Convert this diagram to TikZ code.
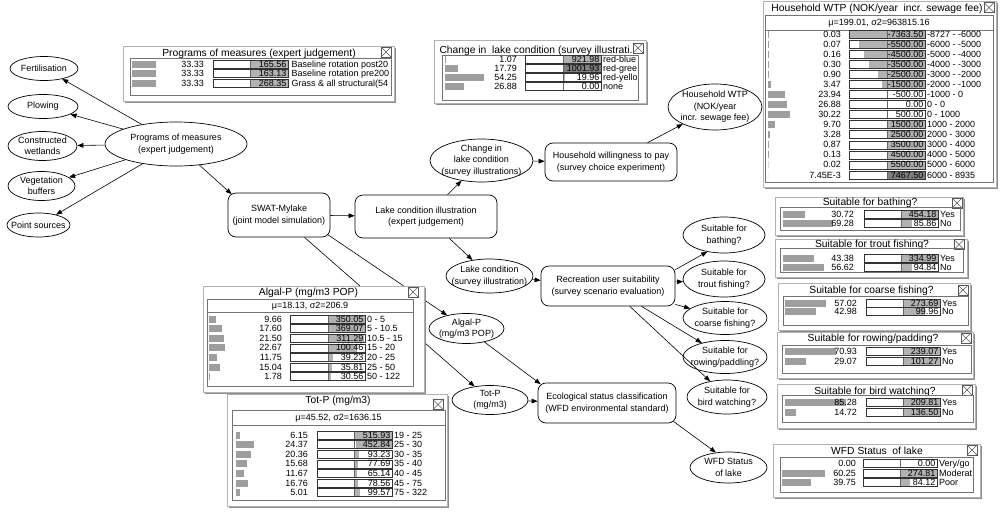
\documentclass[tikz,border=0pt]{standalone}
\usepackage{fontspec}
\setmainfont{Liberation Sans}
\usetikzlibrary{shapes.geometric,arrows.meta}
\newcommand{\fntnode}{\fontsize{9}{11.5}\selectfont}
\newcommand{\fntrow}{\fontsize{9}{10}\selectfont}
\newcommand{\fnttitle}{\fontsize{10.3}{12}\selectfont}
\tikzset{
  ell/.style={ellipse,draw=black,line width=0.7pt,fill=white,inner sep=0pt},
  rbox/.style={rectangle,rounded corners=8pt,draw=black,line width=0.7pt,fill=white,inner sep=0pt,align=center,font=\fntnode},
  ntxt/.style={align=center,font=\fntnode,inner sep=0pt},
  arr/.style={-{Triangle[length=6pt,width=4.6pt]},line width=0.6pt},
  rowtxt/.style={font=\fntrow,inner sep=0pt,text height=6.5pt,text depth=1.5pt},
  titletxt/.style={font=\fnttitle,inner sep=0pt,text height=7.5pt,text depth=2pt},
  barfill/.style={fill=black!38},
  valfill/.style={fill=black!30},
  valdark/.style={fill=black!50},
  closeic/.style={draw=black!65,line width=0.6pt},
  inbox/.style={draw=black!55,line width=0.6pt},
}
\newcommand{\tframe}[4]{%
  \fill[black!45] (#1+2,#2+2) rectangle (#3+2,#4+2);
  \filldraw[fill=white,draw=black!30,line width=0.6pt] (#1,#2) rectangle (#3,#4);}
\newcommand{\tclose}[2]{%
  \draw[closeic] (#1,#2) rectangle ++(10,10);
  \draw[closeic] (#1,#2) -- ++(10,10);
  \draw[closeic] (#1+10,#2) -- ++(-10,10);}
\newcommand{\tset}[7]{\def\TBx{#1}\def\TVx{#2}\def\TBa{#3}\def\TBm{#4}\def\TBb{#5}\def\TLx{#6}\def\TCx{#7}}
\newcommand{\prow}[9][valfill]{%
  \fill[barfill] (\TBx,#3-3.5) rectangle ++(#4*0.72,7);
  \node[rowtxt,anchor=east] (#2v) at (\TVx,#3+0.5) {#5};
  \fill[white] (\TBa,#3-4) rectangle (\TBb,#3+4);
  \fill[#1] (#6,#3-4) rectangle (#7,#3+4);
  \draw[black!60,line width=0.5pt] (\TBm,#3-4) -- (\TBm,#3+4);
  \draw[black!80,line width=0.6pt] (\TBa,#3-4) rectangle (\TBb,#3+4);
  \node[rowtxt,anchor=east] (#2n) at (\TBb-1.5,#3+0.5) {#8};
  \begin{scope}\clip (\TLx,#3-6) rectangle (\TCx,#3+6);
  \node[rowtxt,anchor=west] (#2l) at (\TLx,#3+0.5) {#9};\end{scope}}
\begin{document}
\begin{tikzpicture}[x=1pt,y=-1pt]
\useasboundingbox (0,0) rectangle (1004,517);
\fill[white] (0,0) rectangle (1004,517);
% ---------- nodes
\node[ell,minimum width=68pt,minimum height=24pt] (fert) at (44,68.5) {};
\node[ntxt] (fertt) at (fert) {Fertilisation};
\node[ell,minimum width=70pt,minimum height=24pt] (plow) at (43,106.5) {};
\node[ntxt] (plowt) at (plow) {Plowing};
\node[ell,minimum width=69pt,minimum height=29pt] (cw) at (42.5,146) {};
\node[ntxt] (cwt) at (cw) {Constructed\\wetlands};
\node[ell,minimum width=67pt,minimum height=29pt] (vb) at (41.5,186) {};
\node[ntxt] (vbt) at (vb) {Vegetation\\buffers};
\node[ell,minimum width=63pt,minimum height=24pt] (ps) at (38.5,225) {};
\node[ntxt] (pst) at (ps) {Point sources};
\node[ell,minimum width=142pt,minimum height=44pt] (prog) at (176,144) {};
\node[ntxt] (progt) at (prog) {Programs of measures\\(expert judgement)};
\node[rbox,minimum width=102pt,minimum height=44pt] (swat) at (279,215) {SWAT-Mylake\\(joint model simulation)};
\node[rbox,minimum width=142pt,minimum height=43pt] (lci) at (426,216.5) {Lake condition illustration\\(expert judgement)};
\node[ell,minimum width=103pt,minimum height=43pt] (chg) at (481.5,160.5) {};
\node[ntxt] (chgt) at (chg) {Change in\\lake condition\\(survey illustrations)};
\node[rbox,minimum width=132pt,minimum height=38pt] (hhb) at (611,162) {Household willingness to pay\\(survey choice experiment)};
\node[ell,minimum width=94pt,minimum height=46pt] (hhw) at (715,107) {};
\node[ntxt] (hhwt) at (hhw) {Household WTP\\(NOK/year\\incr. sewage fee)};
\node[ell,minimum width=87pt,minimum height=34pt] (lc) at (489.5,276) {};
\node[ntxt] (lct) at (lc) {Lake condition\\(survey illustration)};
\node[rbox,minimum width=134pt,minimum height=40pt] (rec) at (608,286) {Recreation user suitability\\(survey scenario evaluation)};
\node[ell,minimum width=82pt,minimum height=36pt] (bath) at (724,235) {};
\node[ntxt] (batht) at (bath) {Suitable for\\bathing?};
\node[ell,minimum width=82pt,minimum height=36pt] (trout) at (724,279) {};
\node[ntxt] (troutt) at (trout) {Suitable for\\trout fishing?};
\node[ell,minimum width=84pt,minimum height=33pt] (coarse) at (725,318) {};
\node[ntxt] (coarset) at (coarse) {Suitable for\\coarse fishing?};
\node[ell,minimum width=84pt,minimum height=33pt] (row) at (725,357) {};
\node[ntxt] (rowt) at (row) {Suitable for\\rowing/paddling?};
\node[ell,minimum width=80pt,minimum height=34pt] (bird) at (727,397) {};
\node[ntxt] (birdt) at (bird) {Suitable for\\bird watching?};
\node[ell,minimum width=75pt,minimum height=30pt] (algal) at (466.5,328.5) {};
\node[ntxt] (algalt) at (algal) {Algal-P\\(mg/m3 POP)};
\node[ell,minimum width=76pt,minimum height=29pt] (totp) at (490,400) {};
\node[ntxt] (totpt) at (totp) {Tot-P\\(mg/m3)};
\node[rbox,minimum width=138pt,minimum height=40pt] (eco) at (607,403) {Ecological status classification\\(WFD environmental standard)};
\node[ell,minimum width=77pt,minimum height=31pt] (wfd) at (728.5,467.5) {};
\node[ntxt] (wfdt) at (wfd) {WFD Status\\of lake};
% ---------- connectors
\draw[arr] (prog) -- (fert);
\draw[arr] (prog) -- (plow);
\draw[arr] (prog) -- (cw);
\draw[arr] (prog) -- (vb);
\draw[arr] (prog) -- (ps);
\draw[arr] (prog) -- ([xshift=4pt,yshift=-1.5pt]swat.north west);
\draw[arr] (swat) -- (lci);
\draw[arr] (lci) -- (chg);
\draw[arr] (chg) -- (hhb);
\draw[arr] (hhb) -- (hhw);
\draw[arr] (lci) -- (lc);
\draw[arr] (lc) -- (rec);
\draw[arr] ([yshift=-4pt]rec.north east) -- (bath.225);
\draw[arr] (rec) -- (trout);
\draw[arr] (rec) -- (coarse);
\draw[arr] (rec) -- (row);
\draw[arr] (rec) -- (bird);
\draw[arr] ([xshift=-3pt,yshift=3pt]swat.south east) -- (algal);
\draw[arr] (swat) -- (totp);
\draw[arr] (algal) -- ([xshift=3pt,yshift=-1.5pt]eco.north west);
\draw[arr] (totp) -- (eco);
\draw[arr] ([xshift=-3pt,yshift=2pt]eco.south east) -- (wfd.130);
% ---------- table A: programs of measures
\tframe{123}{46}{394}{101}
\node[titletxt] (ta) at (259,53.7) {Programs of measures (expert judgement)};
\tclose{381}{47}
\draw[inbox] (130,58) rectangle (391,95);
\tset{132}{204}{213}{250.5}{288}{291.5}{391}
\prow{a1}{64}{33.33}{33.33}{250.5}{288}{165.56}{Baseline rotation post20}
\prow{a2}{73.5}{33.33}{33.33}{250.5}{288}{163.13}{Baseline rotation pre200}
\prow{a3}{83}{33.33}{33.33}{250.5}{288}{268.35}{Grass \& all structural(54}
% ---------- table B: change in lake condition
\tframe{434}{40}{646}{103}
\node[titletxt] (tb) at (536,51) {Change in\ \ lake condition (survey illustrati.};
\tclose{633}{43}
\draw[inbox] (442,55.5) rectangle (638,100);
\tset{445}{517}{525}{563}{601}{603}{638}
\prow{b1}{59.5}{1.07}{1.07}{563}{601}{921.98}{red-blue}
\prow[valdark]{b2}{68.5}{17.79}{17.79}{563}{601}{1001.93}{red-gree}
\prow{b3}{77.5}{54.25}{54.25}{563}{565}{19.96}{red-yello}
\prow{b4}{86.5}{26.88}{26.88}{563}{563}{0.00}{none}
% ---------- table C: household WTP
\tframe{763}{1}{996}{187}
\node[titletxt] (tc) at (877,8.5) {Household WTP (NOK/year\ \ incr. sewage fee)};
\tclose{984}{2.5}
\draw[inbox] (765,15) rectangle (993,30);
\node[rowtxt] (chdr) at (879,23) {μ=199.01, σ2=963815.16};
\draw[inbox] (765,30) rectangle (993,182);
\tset{768}{841}{849}{887}{925}{927}{993}
\prow{c1}{34}{0.03}{0.03}{850}{925}{-7363.50}{-8727 - -6000}
\prow{c2}{44.1}{0.07}{0.07}{859}{925}{-5500.00}{-6000 - -5000}
\prow{c3}{54.1}{0.16}{0.16}{864}{925}{-4500.00}{-5000 - -4000}
\prow{c4}{64.2}{0.30}{0.30}{869}{925}{-3500.00}{-4000 - -3000}
\prow{c5}{74.3}{0.90}{0.90}{878}{925}{-2500.00}{-3000 - -2000}
\prow{c6}{84.4}{3.47}{3.47}{882}{925}{-1500.00}{-2000 - -1000}
\prow{c7}{94.4}{23.94}{23.94}{887}{887}{-500.00}{-1000 - 0}
\prow{c8}{104.5}{26.88}{26.88}{887}{887}{0.00}{0 - 0}
\prow{c9}{114.6}{30.22}{30.22}{887}{887}{500.00}{0 - 1000}
\prow{c10}{124.6}{9.70}{9.70}{887}{925}{1500.00}{1000 - 2000}
\prow{c11}{134.7}{3.28}{3.28}{887}{925}{2500.00}{2000 - 3000}
\prow{c12}{144.8}{0.87}{0.87}{887}{925}{3500.00}{3000 - 4000}
\prow{c13}{154.9}{0.13}{0.13}{887}{925}{4500.00}{4000 - 5000}
\prow{c14}{164.9}{0.02}{0.02}{887}{925}{5500.00}{5000 - 6000}
\prow[valdark]{c15}{175}{0.00745}{7.45E-3}{887}{925}{7467.50}{6000 - 8935}
% ---------- table D: algal-P
\tframe{203}{286}{424}{392}
\node[titletxt] (td) at (308.5,292.6) {Algal-P (mg/m3 POP)};
\tclose{408}{287}
\draw[inbox] (207,299) rectangle (413,312);
\node[rowtxt] (dhdr) at (310,306) {μ=18.13, σ2=206.9};
\draw[inbox] (207,312) rectangle (413,386);
\tset{209}{282}{290}{328}{365}{367}{413}
\prow{d1}{319}{9.66}{9.66}{328}{365}{350.05}{0 - 5}
\prow{d2}{328.6}{17.60}{17.60}{328}{365}{369.07}{5 - 10.5}
\prow{d3}{338.2}{21.50}{21.50}{328}{364}{311.29}{10.5 - 15}
\prow{d4}{347.8}{22.67}{22.67}{328}{357}{100.46}{15 - 20}
\prow{d5}{357.4}{11.75}{11.75}{328}{333}{39.23}{20 - 25}
\prow{d6}{367}{15.04}{15.04}{328}{332}{35.81}{25 - 50}
\prow{d7}{376.6}{1.78}{1.78}{328}{331}{30.56}{50 - 122}
% ---------- table E: tot-P
\tframe{227}{394}{447}{506}
\node[titletxt] (te) at (338,401) {Tot-P (mg/m3)};
\tclose{433}{399.5}
\draw[inbox] (232,410) rectangle (445,425);
\node[rowtxt] (ehdr) at (338.5,418) {μ=45.52, σ2=1636.15};
\draw[inbox] (232,425) rectangle (445,500);
\tset{236}{308}{317}{354}{392}{394}{445}
\prow{e1}{435}{6.15}{6.15}{354}{392}{515.93}{19 - 25}
\prow{e2}{444.6}{24.37}{24.37}{356}{392}{452.84}{25 - 30}
\prow{e3}{454.2}{20.36}{20.36}{354}{359}{93.23}{30 - 35}
\prow{e4}{463.8}{15.68}{15.68}{354}{358}{77.69}{35 - 40}
\prow{e5}{473.4}{11.67}{11.67}{354}{357}{65.14}{40 - 45}
\prow{e6}{483}{16.76}{16.76}{354}{358}{78.56}{45 - 75}
\prow{e7}{492.6}{5.01}{5.01}{354}{360}{99.57}{75 - 322}
% ---------- table F: bathing
\tframe{775}{197}{963}{235}
\node[titletxt] (tf) at (870,203) {Suitable for bathing?};
\tclose{952}{198}
\draw[inbox] (780,207) rectangle (960,230);
\tset{783}{854}{864}{901}{938}{940}{960}
\prow{f1}{214}{30.72}{30.72}{901}{938}{454.18}{Yes}
\prow{f2}{223.5}{69.28}{69.28}{901}{912}{85.86}{No}
% ---------- table G: trout
\tframe{775}{239}{967}{277}
\node[titletxt] (tg) at (872,244.5) {Suitable for trout fishing?};
\tclose{954}{239.5}
\draw[inbox] (780,248) rectangle (963,272);
\tset{783}{854}{864}{901}{938}{940}{963}
\prow{g1}{258}{43.38}{43.38}{901}{938}{334.99}{Yes}
\prow{g2}{267}{56.62}{56.62}{901}{912}{94.84}{No}
% ---------- table H: coarse
\tframe{778}{283}{970}{330}
\node[titletxt] (th) at (871.5,291) {Suitable for coarse fishing?};
\tclose{958}{285}
\draw[inbox] (783,296) rectangle (968,325);
\tset{785}{857}{866}{903}{940}{942}{968}
\prow{h1}{303}{57.02}{57.02}{903}{940}{273.69}{Yes}
\prow{h2}{311.5}{42.98}{42.98}{903}{925}{99.96}{No}
% ---------- table I: rowing
\tframe{777}{332}{973}{378}
\node[titletxt] (ti) at (873,339) {Suitable for rowing/padding?};
\tclose{961}{333}
\draw[inbox] (782,345) rectangle (971,373);
\tset{785}{857}{866}{903}{940}{942}{971}
\prow{i1}{351}{70.93}{70.93}{903}{940}{239.07}{Yes}
\prow{i2}{361}{29.07}{29.07}{903}{940}{101.27}{No}
% ---------- table J: bird
\tframe{777}{384}{975}{428}
\node[titletxt] (tj) at (875,392) {Suitable for bird watching?};
\tclose{962}{385}
\draw[inbox] (782,395) rectangle (973,422);
\tset{785}{857}{866}{903}{940}{942}{973}
\prow{j1}{402}{85.28}{85.28}{903}{940}{209.81}{Yes}
\prow{j2}{412}{14.72}{14.72}{903}{940}{136.50}{No}
% ---------- table K: WFD status
\tframe{773}{444}{980}{497}
\node[titletxt] (tk) at (877,452) {WFD Status\ \ of lake};
\tclose{967}{445}
\draw[inbox] (780,457) rectangle (973,492);
\tset{782}{856}{863}{900}{937}{939}{973}
\prow{k1}{463}{0.00}{0.00}{900}{900}{0.00}{Very/go}
\prow{k2}{473}{60.25}{60.25}{900}{937}{274.81}{Moderat}
\prow{k3}{482.5}{39.75}{39.75}{900}{910}{84.12}{Poor}
\end{tikzpicture}
\end{document}
